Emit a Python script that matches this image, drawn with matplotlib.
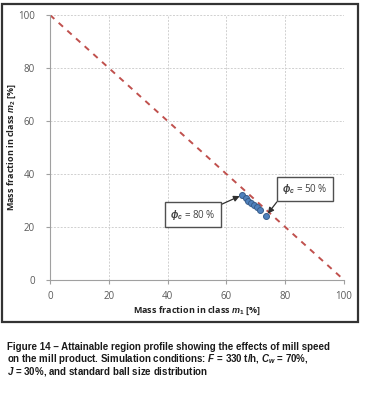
import matplotlib.pyplot as plt
from matplotlib.patches import Rectangle

# data
m1 = [65.4, 66.6, 67.5, 68.4, 69.4, 70.3, 71.4, 73.5]
m2 = [32.1, 30.8, 29.9, 29.2, 28.4, 27.7, 26.4, 24.2]
line_x = [0, 100]
line_y = [100, 0]
ticks = [0, 20, 40, 60, 80, 100]

plt.rcParams['mathtext.fontset'] = 'custom'
plt.rcParams['mathtext.it'] = 'DejaVu Sans:italic'
plt.rcParams['mathtext.rm'] = 'DejaVu Sans'

W, H = 369, 393
fig = plt.figure(figsize=(W / 100, H / 100), dpi=100)
ax = fig.add_axes([50 / W, 1 - 280 / H, (344 - 50) / W, (280 - 15) / H])

# outer frame around the chart
fig.patches.append(Rectangle((2 / W, 1 - 322 / H), (358 - 2) / W, (322 - 4) / H,
                             transform=fig.transFigure, fill=False,
                             edgecolor='#333333', linewidth=1.6))

ax.plot(line_x, line_y, linestyle=(0, (3, 3)), color='#C0504D', linewidth=1.4, zorder=2)
ax.plot(m1, m2, 'o', markersize=4.3, markerfacecolor='#4F81BD',
        markeredgecolor='#385D8A', markeredgewidth=0.7, zorder=3)

ax.set_xlim(0, 100)
ax.set_ylim(0, 100)
ax.set_xticks(ticks)
ax.set_yticks(ticks)
ax.grid(True, linestyle=(0, (2, 1.5)), color='#D0D0D0', linewidth=0.7)
ax.set_axisbelow(True)
for s in ['top', 'right']:
    ax.spines[s].set_visible(False)
for s in ['left', 'bottom']:
    ax.spines[s].set_color('#A0A0A0')
    ax.spines[s].set_linewidth(0.8)
ax.tick_params(colors='#A0A0A0', labelcolor='#595959', labelsize=7, length=3, width=0.8)
ax.tick_params(axis='x', pad=5)
ax.tick_params(axis='y', pad=8)
for lab in ax.get_xticklabels() + ax.get_yticklabels():
    lab.set_fontfamily('Open Sans')

ax.set_xlabel(r'Mass fraction in class $m_1$ [%]', fontsize=6.5, fontweight='bold',
              fontfamily='Open Sans', color='#222222')
ax.set_ylabel(r'Mass fraction in class $m_2$ [%]', fontsize=6.5, fontweight='bold',
              fontfamily='Open Sans', color='#222222')
ax.xaxis.set_label_coords(0.5, (280 - 305) / 265)
ax.yaxis.set_label_coords((18 - 50) / 294, 0.5)

box = dict(boxstyle='square,pad=0.55', facecolor='white', edgecolor='#505050', linewidth=1.0)
ax.annotate(r'$\phi_c$ = 80 %', xy=(m1[0], m2[0]), xytext=(48.6, 24.6),
            ha='center', va='center', fontsize=7, color='#404040', family='Open Sans', bbox=box,
            arrowprops=dict(arrowstyle='-|>,head_length=0.5,head_width=0.25', color='#303030',
                            lw=0.9, relpos=(0.96, 1.0), shrinkA=0, shrinkB=2), zorder=4)
ax.annotate(r'$\phi_c$ = 50 %', xy=(m1[-1], m2[-1]), xytext=(86.6, 34.3),
            ha='center', va='center', fontsize=7, color='#404040', family='Open Sans', bbox=box,
            arrowprops=dict(arrowstyle='-|>,head_length=0.5,head_width=0.25', color='#303030',
                            lw=0.9, relpos=(0.0, 0.05), shrinkA=0, shrinkB=2), zorder=4)

cap = dict(fontsize=7.05, fontweight='bold', family='Liberation Sans', color='#1a1a1a',
           ha='left', va='center')
plt.rcParams['mathtext.it'] = 'Liberation Sans:italic:bold'
plt.rcParams['mathtext.rm'] = 'Liberation Sans:bold'
fig.text(7 / W, 1 - 347 / H,
         'Figure 14 \u2013 Attainable region profile showing the effects of mill speed', **cap)
fig.text(7 / W, 1 - 359 / H,
         r'on the mill product. Simulation conditions: $F$ = 330 t/h, $C_w$ = 70%,', **cap)
fig.text(7 / W, 1 - 371 / H,
         r'$J$ = 30%, and standard ball size distribution', **cap)

fig.savefig('out.png', dpi=100)
